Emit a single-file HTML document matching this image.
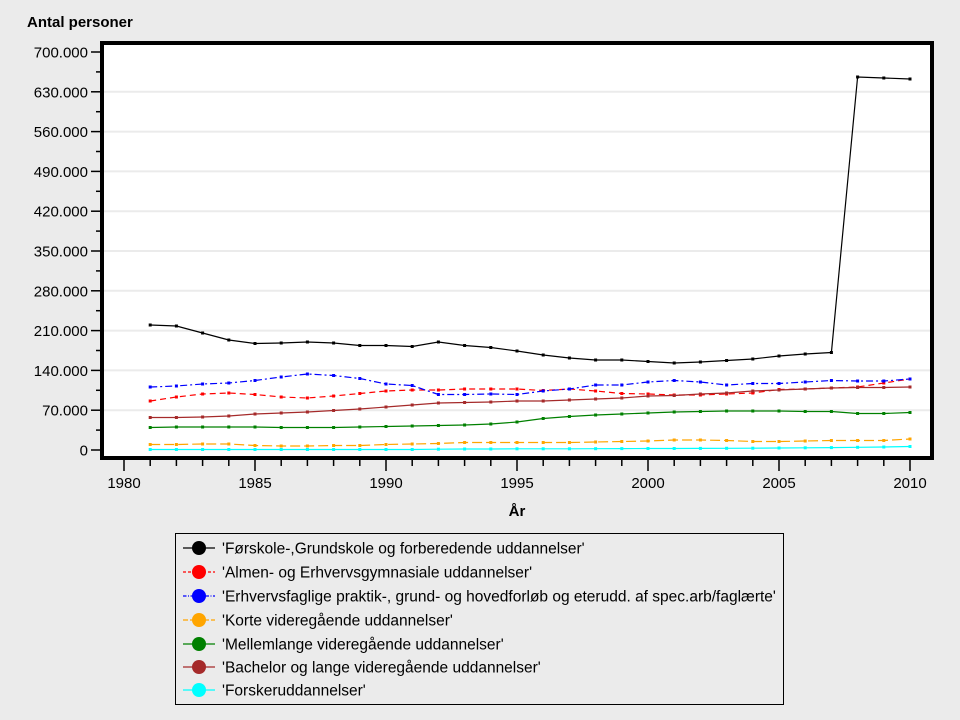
<!DOCTYPE html>
<html><head><meta charset="utf-8"><style>
body{margin:0;background:#ebebeb;}
svg{display:block;font-family:"Liberation Sans",sans-serif;}
</style></head><body>
<svg id="s" width="960" height="720" xmlns="http://www.w3.org/2000/svg">
<rect x="0" y="0" width="960" height="720" fill="#ebebeb"/>
<text x="27" y="27" font-size="15" font-weight="bold">Antal personer</text>
<rect x="102" y="43" width="830" height="415" fill="#fff"/>
<g id="grid"></g>
<g id="series"></g>
<rect x="102" y="43" width="830" height="415" fill="none" stroke="#000" stroke-width="4"/>
<text x="517" y="516" font-size="15" font-weight="bold" text-anchor="middle">År</text>
<rect x="175.5" y="533.5" width="608" height="171" fill="#ebebeb" stroke="#000" stroke-width="1"/>
<g id="legend" font-size="15.5"></g>
</svg>
<script>
const ns="http://www.w3.org/2000/svg";
function el(p,t,a,txt){const e=document.createElementNS(ns,t);for(const k in a)e.setAttribute(k,a[k]);if(txt!==undefined)e.textContent=txt;p.appendChild(e);return e;}
const g=document.getElementById('grid');
const yv=v=>450-v/700000*398;
const labels=["0","70.000","140.000","210.000","280.000","350.000","420.000","490.000","560.000","630.000","700.000"];
for(let i=0;i<=10;i++){const y=yv(i*70000);
 if(i>0&&i<10)el(g,'line',{x1:104,x2:930,y1:y,y2:y,stroke:'#ebebeb','stroke-width':2});
 el(g,'line',{x1:91,x2:102,y1:y,y2:y,stroke:'#000','stroke-width':1.5});
 el(g,'text',{x:88,y:y+5.5,'font-size':15,'text-anchor':'end'},labels[i]);
 if(i<10){const ym=yv(i*70000+35000);el(g,'line',{x1:96,x2:102,y1:ym,y2:ym,stroke:'#000','stroke-width':1.5});}
}
const xv=yr=>124+(yr-1980)*26.2;
for(let yr=1980;yr<=2010;yr++){const x=xv(yr);const maj=yr%5==0;
 el(g,'line',{x1:x,x2:x,y1:460,y2:maj?471:466,stroke:'#000','stroke-width':1.5});
 if(maj)el(g,'text',{x:x,y:488,'font-size':15,'text-anchor':'middle'},String(yr));}
const S=[
['#000','',[325,326,333,340,343.5,343,342,343,345.5,345.5,346.5,342,345.5,347.5,351,355,358,360,360,361.5,363,362,360.5,359,356,354,352.5,77,78,79]],
['#ff0000','6,4',[401,397,394,393,394.5,397,398,396,393.5,391,390,390,389,389,389,390.5,389,391,393.5,394,395,395,394,393,389.5,389,388,387,383,379]],
['#0000ff','7,3,2,3',[387,386,384,383,380.5,377,374,375.5,378.5,384,385.5,394.5,394.5,394,394.5,391,389,385,385,382,380.5,382,385,383.5,383.5,382,380.5,381,381,379]],
['#ffa500','10,4',[444.5,444.5,444,444,445.5,446,446,445.5,445.5,444.5,444,443.5,442.5,442.5,442.5,442.5,442.5,442,441.5,441,440,440,440.5,441.5,441.5,441,440.5,440.5,440.5,439]],
['#008000','',[427.5,427,427,427,427,427.5,427.5,427.5,427,426.5,426,425.5,425,424,422,418.5,416.5,415,414,413,412,411.5,411,411,411,411.5,411.5,413.5,413.5,412.5]],
['#a52a2a','',[417.5,417.5,417,416,414,413,412,410.5,409,407,405,403,402.5,402,401,401,400,399,398,396,395.5,394,393,391,390,389,388,387.5,387.5,387]],
['#00ffff','',[449.5,449.5,449.5,449.5,449.5,449.5,449.5,449.5,449.5,449.5,449.5,449.2,449,449,448.8,448.8,448.8,448.7,448.6,448.5,448.5,448.4,448.3,448.2,448,447.8,447.6,447.3,447,446.5]]];
const sg=document.getElementById('series');
S.forEach(([c,d,ys])=>{const pts=ys.map((y,i)=>xv(1981+i)+','+y).join(' ');
 const a={points:pts,fill:'none',stroke:c,'stroke-width':1.2};if(d)a['stroke-dasharray']=d;el(sg,'polyline',a);
 ys.forEach((y,i)=>el(sg,'rect',{x:xv(1981+i)-1.5,y:y-1.5,width:3,height:3,fill:c}));});
const L=["'Førskole-,Grundskole og forberedende uddannelser'","'Almen- og Erhvervsgymnasiale uddannelser'","'Erhvervsfaglige praktik-, grund- og hovedforløb og eterudd. af spec.arb/faglærte'","'Korte videregående uddannelser'","'Mellemlange videregående uddannelser'","'Bachelor og lange videregående uddannelser'","'Forskeruddannelser'"];
const lg=document.getElementById('legend');
const ly=[548,572,596,620,644,667,690];
S.forEach(([c,d],i)=>{const y=ly[i];const a={x1:183,x2:215,y1:y,y2:y,stroke:c,'stroke-width':1.2};if(d)a['stroke-dasharray']=d.split(',').map(n=>n/2).join(',');
 el(lg,'line',a);el(lg,'circle',{cx:199,cy:y,r:7,fill:c});
 el(lg,'text',{x:222,y:y+5.5},L[i]);});
</script>
</body></html>
